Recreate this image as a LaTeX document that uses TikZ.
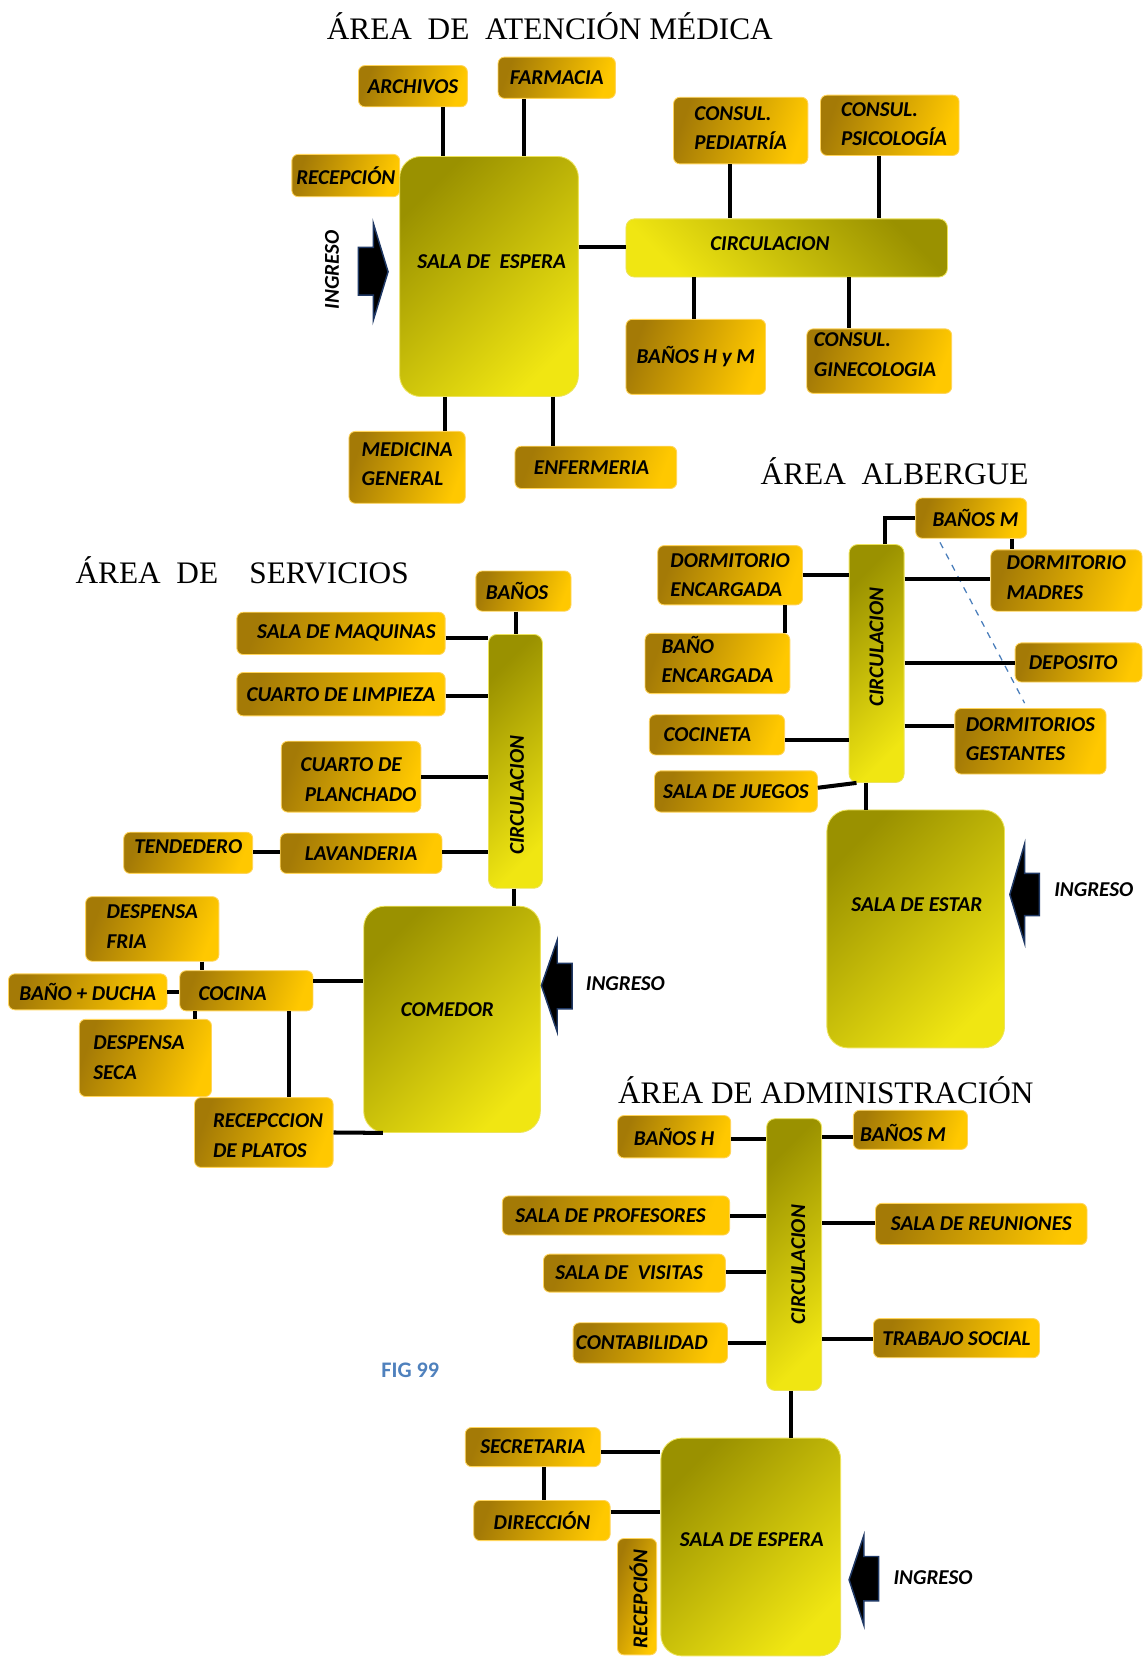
\documentclass[tikz,border=0pt]{standalone}
\usepackage{fontspec}
\newfontfamily\carl{Carlito}
\newfontfamily\titlefont{Liberation Serif}
\usetikzlibrary{fit}
\begin{document}
\begin{tikzpicture}[x=0.5pt,y=-0.5pt,
  font=\carl\bfseries\itshape\fontsize{10}{14}\selectfont,
  ambar/.style={inner sep=0pt,rounded corners=3pt,draw=ambarborde,line width=0.4pt,left color=ambardark,middle color=ambarmid,right color=ambarlight,shading angle=70},
  dos/.style={align=left},
  sala/.style={inner sep=0pt,rounded corners=10pt,draw=saloborde,line width=0.4pt,left color=olivodark,right color=olivolight,shading angle=45},
  circ/.style={inner sep=0pt,rounded corners=4pt,draw=saloborde,line width=0.4pt,left color=olivodark,right color=olivolight,shading angle=45},
  wire/.style={line width=1.9pt},
  ingreso/.style={fill=black,draw=flechaazul,line width=0.7pt},
  titulo/.style={font=\titlefont\fontsize{14.8}{17}\selectfont}]
\definecolor{ambardark}{HTML}{A47A06}
\definecolor{ambarmid}{HTML}{E6AA02}
\definecolor{ambarlight}{HTML}{FFC800}
\definecolor{ambarborde}{HTML}{FFD45A}
\definecolor{olivodark}{HTML}{9A9100}
\definecolor{olivolight}{HTML}{F0E612}
\definecolor{saloborde}{HTML}{EDE35A}
\definecolor{flechaazul}{HTML}{1F3864}
\definecolor{figazul}{HTML}{4F81BD}
\definecolor{guiaazul}{HTML}{4A7EBB}
\useasboundingbox (0,0) rectangle (1081,1568);

\node[titulo] (tituloA) at (520,25) {ÁREA\ \ DE\ \ ATENCIÓN MÉDICA};
\node[ambar,fit={(339,62) (442,101)},label=center:ARCHIVOS] (archivos) {};
\node[ambar,fit={(471,54) (582,93)},label=center:FARMACIA] (farmacia) {};
\node[ambar,fit={(276,146) (378,186)},label=center:RECEPCIÓN] (recepA) {};
\node[sala,fit={(378,148) (547,375)}] (esperaA) {};
\node (esperaAt) at (465,247) {SALA DE\ \ ESPERA};
\filldraw[ingreso] (339,234) -- (353,234) -- (353,211) -- (367,257) -- (353,303) -- (353,279) -- (339,279) -- cycle;
\node[rotate=90] (ingresoA) at (314,255) {INGRESO};
\node[circ,shading angle=-45,fit={(592,207) (896,262)}] (circA) {};
\node (circAt) at (728,230) {CIRCULACION};
\node[ambar,fit={(637,92) (764,155)},label={[dos,yshift=1.25pt]center:CONSUL.\\PEDIATRÍA}] (pediatria) {};
\node[ambar,fit={(776,90) (907,147)},label={[dos,xshift=2pt,yshift=0.5pt]center:CONSUL.\\PSICOLOGÍA}] (psicologia) {};
\node[ambar,fit={(592,302) (724,373)},label=center:BAÑOS H y M] (banosA) {};
\node[ambar,fit={(763,311) (900,372)},label={[dos,xshift=-2pt,yshift=3pt]center:CONSUL.\\GINECOLOGIA}] (gineco) {};
\node[ambar,fit={(330,408) (440,476)},label={[dos,yshift=1.5pt]center:MEDICINA\\GENERAL}] (medicina) {};
\node[ambar,fit={(487,422) (640,462)},label={[xshift=-2pt]center:ENFERMERIA}] (enfermeria) {};
\draw[wire] (archivos.south -| 419,0) -- (esperaA.north -| 419,0);
\draw[wire] (farmacia.south -| 496,0) -- (esperaA.north -| 496,0);
\draw[wire] (esperaA.east |- 0,234) -- (circA.west |- 0,234);
\draw[wire] (pediatria.south -| 690,0) -- (circA.north -| 690,0);
\draw[wire] (psicologia.south -| 831,0) -- (circA.north -| 831,0);
\draw[wire] (circA.south -| 656,0) -- (banosA.north -| 656,0);
\draw[wire] (circA.south -| 803,0) -- (gineco.north -| 803,0);
\draw[wire] (esperaA.south -| 421,0) -- (medicina.north -| 421,0);
\draw[wire] (esperaA.south -| 523,0) -- (enfermeria.north -| 523,0);

\node[titulo] (tituloB) at (846,446) {ÁREA\ \ ALBERGUE};
\node[ambar,fit={(866,471) (971,509)},label={[xshift=2pt]center:BAÑOS M}] (banosMB) {};
\node[circ,fit={(803,515) (855,740)}] (circB) {};
\node[rotate=90] (circBt) at (829,612) {CIRCULACION};
\node[ambar,fit={(937,520) (1080,578)},label={[dos,yshift=1.25pt]center:DORMITORIO\\MADRES}] (madres) {};
\node[ambar,fit={(622,516) (759,572)},label={[dos]center:DORMITORIO\\ENCARGADA}] (encargada) {};
\node[ambar,fit={(610,599) (747,656)},label={[dos,yshift=2pt]center:BAÑO\\ENCARGADA}] (banoEnc) {};
\node[ambar,fit={(960,608) (1080,645)},label={[xshift=-2.5pt]center:DEPOSITO}] (deposito) {};
\node[ambar,fit={(903,670) (1046,732)},label={[dos,yshift=1pt]center:DORMITORIOS\\GESTANTES}] (gestantes) {};
\node[ambar,fit={(614,676) (742,714)},label={[xshift=-4.5pt]center:COCINETA}] (cocineta) {};
\node[ambar,fit={(619,729) (773,768)},label=center:SALA DE JUEGOS] (juegos) {};
\node[sala,fit={(782,766) (950,991)}] (estar) {};
\node (estart) at (867,856) {SALA DE ESTAR};
\filldraw[ingreso] (983,826) -- (969,826) -- (969,798) -- (955,846) -- (969,892) -- (969,866) -- (983,866) -- cycle;
\node[anchor=west] (ingresoB) at (990,841) {INGRESO};
\coordinate (guiaA) at (889,513);
\coordinate (guiaB) at (969,665);
\draw[guiaazul,dashed,line width=0.6pt] (guiaA) -- (guiaB);
\draw[wire] (circB.north -| 837,0) |- (banosMB.west);
\draw[wire] (banosMB.south -| 957,0) -- (madres.north -| 957,0);
\draw[wire] (circB.east |- 0,548) -- (madres.west |- 0,548);
\draw[wire] (encargada.east |- 0,544) -- (circB.west |- 0,544);
\draw[wire] (encargada.south -| 742,0) -- (banoEnc.north -| 742,0);
\draw[wire] (circB.east |- 0,627) -- (deposito.west |- 0,627);
\draw[wire] (circB.east |- 0,687) -- (gestantes.west |- 0,687);
\draw[wire] (cocineta.east |- 0,700) -- (circB.west |- 0,700);
\draw[wire] (juegos.east |- 0,745) -- (circB.south -| 810,0);
\draw[wire] (circB.south -| 819,0) -- (estar.north -| 819,0);

\node[titulo] (tituloC) at (229,539) {ÁREA\ \ DE\ \ \ \ SERVICIOS};
\node[ambar,fit={(450,540) (540,578)},label={[xshift=-3pt]center:BAÑOS}] (banosS) {};
\node[circ,fit={(462,600) (513,840)}] (circS) {};
\node[rotate=90] (circSt) at (489,752) {CIRCULACION};
\node[ambar,fit={(224,579) (421,619)},label={[xshift=2.5pt]center:SALA DE MAQUINAS}] (maquinas) {};
\node[ambar,fit={(224,636) (421,677)},label=center:CUARTO DE LIMPIEZA] (limpieza) {};
\node[ambar,fit={(266,701) (398,768)},label={[dos,xshift=3.5pt,yshift=-1.5pt]center:CUARTO DE\\\hspace*{2pt}PLANCHADO}] (planchado) {};
\node[ambar,fit={(265,788) (418,826)},label=center:LAVANDERIA] (lavanderia) {};
\node[ambar,fit={(117,787) (239,826)},label={[yshift=3pt]center:TENDEDERO}] (tendedero) {};
\node[sala,fit={(344,857) (511,1071)}] (comedor) {};
\node (comedort) at (423,955) {COMEDOR};
\filldraw[ingreso] (541,911) -- (527,911) -- (527,889) -- (512,932) -- (527,976) -- (527,954) -- (541,954) -- cycle;
\node[anchor=west] (ingresoS) at (547,930) {INGRESO};
\node[ambar,fit={(170,918) (296,956)},label={[xshift=-6.5pt,yshift=-1.5pt]center:COCINA}] (cocina) {};
\node[ambar,fit={(8,921) (158,955)},label=center:BAÑO + DUCHA] (banoDucha) {};
\node[ambar,fit={(81,848) (207,909)},label={[dos,yshift=1.25pt]center:DESPENSA\\FRIA}] (fria) {};
\node[ambar,fit={(75,964) (200,1037)},label={[dos,xshift=-3pt]center:DESPENSA\\SECA}] (seca) {};
\node[ambar,fit={(184,1038) (315,1104)},label={[dos,xshift=2pt,yshift=-1.5pt]center:RECEPCCION\\DE PLATOS}] (platos) {};
\draw[wire] (banosS.south -| 488,0) -- (circS.north -| 488,0);
\draw[wire] (maquinas.east |- 0,603) -- (circS.west |- 0,603);
\draw[wire] (limpieza.east |- 0,658) -- (circS.west |- 0,658);
\draw[wire] (planchado.east |- 0,735) -- (circS.west |- 0,735);
\draw[wire] (lavanderia.east |- 0,806) -- (circS.west |- 0,806);
\draw[wire] (tendedero.east |- 0,806) -- (lavanderia.west |- 0,806);
\draw[wire] (circS.south -| 486,0) -- (comedor.north -| 486,0);
\draw[wire] (cocina.east |- 0,928) -- (comedor.west |- 0,928);
\draw[wire] (banoDucha.east |- 0,938) -- (cocina.west |- 0,938);
\draw[wire] (fria.south -| 191,0) -- (cocina.north -| 191,0);
\draw[wire] (cocina.south -| 184,0) -- (seca.north -| 184,0);
\draw[wire] (cocina.south -| 273,0) -- (platos.north -| 273,0);
\draw[wire] (platos.east |- 0,1071) -- (comedor.south -| 362,0);

\node[font=\carl\bfseries\fontsize{10.5}{12}\selectfont,text=figazul] (fig) at (388,1296) {FIG 99};

\node[titulo] (tituloD) at (781,1031) {ÁREA DE ADMINISTRACIÓN};
\node[circ,fit={(725,1058) (777,1315)}] (circD) {};
\node[rotate=90] (circDt) at (755,1196) {CIRCULACION};
\node[ambar,fit={(584,1055) (691,1095)},label=center:BAÑOS H] (banosH) {};
\node[ambar,fit={(807,1050) (915,1087)},label={[xshift=-3.5pt,yshift=-1.5pt]center:BAÑOS M}] (banosMD) {};
\node[ambar,fit={(475,1131) (690,1168)},label={[xshift=-2.5pt]center:SALA DE PROFESORES}] (profesores) {};
\node[ambar,fit={(828,1138) (1028,1177)},label=center:SALA DE REUNIONES] (reuniones) {};
\node[ambar,fit={(514,1186) (686,1222)},label={[xshift=-2.5pt]center:SALA DE\ \ VISITAS}] (visitas) {};
\node[ambar,fit={(542,1251) (688,1289)},label={[xshift=-4pt]center:CONTABILIDAD}] (contabilidad) {};
\node[ambar,fit={(826,1247) (983,1284)},label=center:TRABAJO SOCIAL] (trabajo) {};
\node[sala,fit={(625,1360) (795,1566)}] (esperaD) {};
\node (esperaDt) at (711,1456) {SALA DE ESPERA};
\node[ambar,fit={(440,1350) (568,1387)},label=center:SECRETARIA] (secretaria) {};
\node[ambar,fit={(448,1419) (577,1457)},label=center:DIRECCIÓN] (direccion) {};
\node[ambar,fit={(584,1455) (621,1565)}] (recepD) {};
\node[rotate=90] (recepDt) at (604,1512) {RECEPCIÓN};
\filldraw[ingreso] (831,1472) -- (817,1472) -- (817,1452) -- (803,1494) -- (817,1537) -- (817,1514) -- (831,1514) -- cycle;
\node[anchor=west] (ingresoD) at (838,1492) {INGRESO};
\draw[wire] (banosH.east |- 0,1077) -- (circD.west |- 0,1077);
\draw[wire] (circD.east |- 0,1075) -- (banosMD.west |- 0,1075);
\draw[wire] (profesores.east |- 0,1150) -- (circD.west |- 0,1150);
\draw[wire] (circD.east |- 0,1157) -- (reuniones.west |- 0,1157);
\draw[wire] (visitas.east |- 0,1203) -- (circD.west |- 0,1203);
\draw[wire] (contabilidad.east |- 0,1270) -- (circD.west |- 0,1270);
\draw[wire] (circD.east |- 0,1266) -- (trabajo.west |- 0,1266);
\draw[wire] (circD.south -| 748,0) -- (esperaD.north -| 748,0);
\draw[wire] (secretaria.east |- 0,1373) -- (esperaD.west |- 0,1373);
\draw[wire] (direccion.east |- 0,1430) -- (esperaD.west |- 0,1430);
\draw[wire] (secretaria.south -| 514,0) -- (direccion.north -| 514,0);
\end{tikzpicture}
\end{document}
